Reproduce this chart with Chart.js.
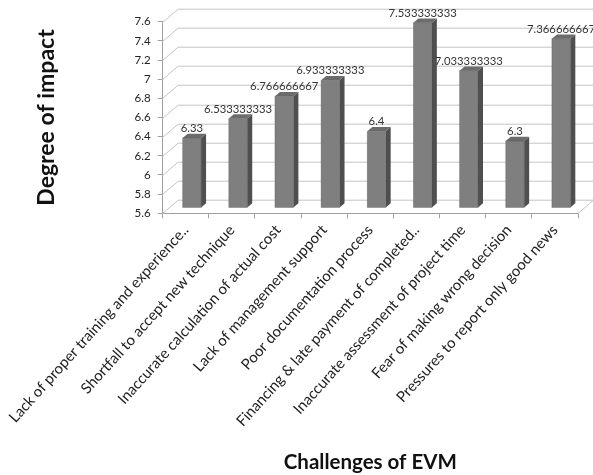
<!DOCTYPE html>
<html>
<head>
<meta charset="utf-8">
<title>Challenges of EVM</title>
<script src="https://cdn.jsdelivr.net/npm/chart.js@4.4.1/dist/chart.umd.min.js"></script>
<style>
  html, body { margin: 0; padding: 0; background: #ffffff; }
  #wrap { width: 593px; height: 475px; position: relative; }
</style>
</head>
<body>
<div id="wrap"><canvas id="chart" width="593" height="475"></canvas></div>
<script>
// Challenges of EVM and their mean degree of impact
const categories = [
  'Lack of proper training and experience..',
  'Shortfall to accept new technique',
  'Inaccurate calculation of actual cost',
  'Lack of management support',
  'Poor documentation process',
  'Financing & late payment of completed..',
  'Inaccurate assessment of project time',
  'Fear of making wrong decision',
  'Pressures to report only good news'
];
const impactValues = [6.33, 6.533333333, 6.766666667, 6.933333333, 6.4, 7.533333333, 7.033333333, 6.3, 7.366666667];
const yTicks = [5.6, 5.8, 6, 6.2, 6.4, 6.6, 6.8, 7, 7.2, 7.4, 7.6];

// Oblique projection used for the walls and the bar blocks
const DEPTH_X = 15.5;
const DEPTH_Y = -13.3;
const BAR_FRONT = 0.4;   // depth fraction where the bar front face sits
const BAR_BACK = 0.72;   // depth fraction of the bar back face

const FONT = 'Lato, "Open Sans", "Liberation Sans", sans-serif';

const walls3d = {
  id: 'walls3d',
  beforeDatasetsDraw(chart) {
    const { ctx, chartArea: a, scales: { y } } = chart;
    ctx.save();
    ctx.strokeStyle = '#c4c4c4';
    ctx.lineWidth = 1;
    y.ticks.forEach(t => {
      const py = Math.round(y.getPixelForValue(t.value)) + 0.5;
      ctx.beginPath();
      ctx.moveTo(a.left, py);
      ctx.lineTo(a.left + DEPTH_X, py + DEPTH_Y);
      ctx.lineTo(a.right + DEPTH_X, py + DEPTH_Y);
      ctx.stroke();
    });
    // right edge of the floor
    const by = Math.round(y.getPixelForValue(y.min)) + 0.5;
    ctx.beginPath();
    ctx.moveTo(a.right, by);
    ctx.lineTo(a.right + DEPTH_X, by + DEPTH_Y);
    ctx.stroke();
    ctx.restore();
  },
  afterDatasetsDraw(chart) {
    const { ctx } = chart;
    const meta = chart.getDatasetMeta(0);
    const values = chart.data.datasets[0].data;
    const ox = DEPTH_X * BAR_FRONT, oy = DEPTH_Y * BAR_FRONT;
    const bx = DEPTH_X * (BAR_BACK - BAR_FRONT), byy = DEPTH_Y * (BAR_BACK - BAR_FRONT);
    ctx.save();
    meta.data.forEach((bar, i) => {
      const { x, y, base, width } = bar.getProps(['x', 'y', 'base', 'width'], true);
      const l = x - width / 2 + ox, r = x + width / 2 + ox;
      const t = y + oy, b = base + oy;
      // side face
      ctx.fillStyle = '#4f4f4f';
      ctx.beginPath();
      ctx.moveTo(r, t); ctx.lineTo(r + bx, t + byy); ctx.lineTo(r + bx, b + byy); ctx.lineTo(r, b);
      ctx.closePath(); ctx.fill();
      // top face
      ctx.fillStyle = '#6c6c6c';
      ctx.beginPath();
      ctx.moveTo(l, t); ctx.lineTo(l + bx, t + byy); ctx.lineTo(r + bx, t + byy); ctx.lineTo(r, t);
      ctx.closePath(); ctx.fill();
      // front face
      ctx.fillStyle = '#7f7f7f';
      ctx.fillRect(l, t, r - l, b - t);
      ctx.strokeStyle = 'rgba(60,60,60,0.35)';
      ctx.lineWidth = 0.8;
      ctx.strokeRect(l, t, r - l, b - t);
      // value label
      ctx.fillStyle = '#333333';
      ctx.font = '11.3px ' + FONT;
      ctx.textAlign = 'center';
      ctx.textBaseline = 'alphabetic';
      ctx.fillText(String(values[i]), (l + r) / 2, t - 6);
    });
    ctx.restore();
  }
};

new Chart(document.getElementById('chart'), {
  type: 'bar',
  data: {
    labels: categories,
    datasets: [{
      data: impactValues,
      base: yTicks[0],
      backgroundColor: 'rgba(0,0,0,0)',
      borderWidth: 0,
      categoryPercentage: 1,
      barPercentage: 0.4
    }]
  },
  options: {
    responsive: false,
    animation: false,
    events: [],
    layout: { padding: { left: 0, top: 21.7, right: 15, bottom: 0 } },
    plugins: { legend: { display: false }, tooltip: { enabled: false } },
    scales: {
      x: {
        type: 'category',
        offset: true,
        grid: { offset: true, drawOnChartArea: false, tickLength: 5, color: '#a0a0a0' },
        border: { display: true, color: '#a0a0a0' },
        ticks: {
          autoSkip: false,
          minRotation: 48,
          maxRotation: 48,
          padding: 3,
          color: '#222222',
          font: { family: FONT, size: 15 }
        },
        title: {
          display: true,
          text: 'Challenges of EVM',
          color: '#111111',
          font: { family: FONT, size: 20.5, weight: 'bold' },
          padding: { top: 0, bottom: 0 }
        },
        afterFit(s) { s.height = 475 - 213.3; }
      },
      y: {
        min: 5.6,
        max: 7.6,
        afterBuildTicks(s) { s.ticks = yTicks.map(v => ({ value: v })); },
        grid: { drawOnChartArea: false, tickLength: 5, color: '#a0a0a0' },
        border: { display: true, color: '#a0a0a0' },
        ticks: {
          padding: 7,
          color: '#222222',
          font: { family: FONT, size: 11.5 },
          callback: v => String(v)
        },
        title: {
          display: true,
          text: 'Degree of impact',
          color: '#111111',
          font: { family: FONT, size: 23, weight: 'bold' },
          padding: { top: 30, bottom: 0 }
        },
        afterFit(s) { s.width = 160; }
      }
    }
  },
  plugins: [walls3d]
});
</script>
</body>
</html>
